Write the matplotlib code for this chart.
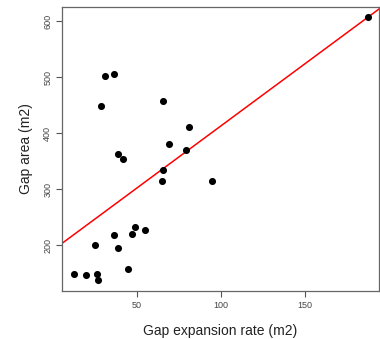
import numpy as np
import matplotlib
matplotlib.use("Agg")
import matplotlib.pyplot as plt

# gap expansion rate (m2) vs gap area (m2)
rate = [31.0, 36.3, 28.6, 65.7, 81.0, 68.9, 79.0, 38.7, 41.5, 187.7,
        65.7, 64.9, 25.2, 36.5, 38.5, 47.0, 49.0, 54.6, 44.8, 12.7,
        19.6, 26.2, 26.6, 94.8]
area = [501, 505, 448, 457, 411, 380, 370, 362, 354, 607,
        334, 315, 200, 218, 195, 220, 232, 227, 157, 148,
        146, 148, 137.5, 315]
x_ticks = [50, 100, 150]
y_ticks = [200, 300, 400, 500, 600]

plt.rcParams["font.family"] = ["Liberation Sans", "DejaVu Sans"]

fig = plt.figure(figsize=(3.8, 3.39), dpi=100)
ax = fig.add_axes([0.163, 0.1416, 0.834, 0.8377])

ax.scatter(rate, area, s=26, color="black", zorder=3, linewidths=0)

# least squares line
slope, intercept = np.polyfit(rate, area, 1)
xs = np.array([0, 200])
ax.plot(xs, intercept + slope * xs, color="red", lw=1.1, zorder=2)

ax.set_xlim(5.4, 194)
ax.set_ylim(118, 625)
ax.set_xticks(x_ticks)
ax.set_yticks(y_ticks)
ax.tick_params(axis="both", colors="#555555", labelsize=6.5, length=4, width=0.8, pad=3)
ax.tick_params(axis="x", labelcolor="#444444")
ax.tick_params(axis="y", labelcolor="#444444")
for lab in ax.get_yticklabels():
    lab.set_rotation(90)
    lab.set_va("center")
for sp in ax.spines.values():
    sp.set_color("#666666")
    sp.set_linewidth(0.9)

ax.set_xlabel("Gap expansion rate (m2)", fontsize=10, color="#222222", labelpad=10)
ax.set_ylabel("Gap area (m2)", fontsize=10, color="#222222", labelpad=7)

fig.savefig("out.png", dpi=100)
